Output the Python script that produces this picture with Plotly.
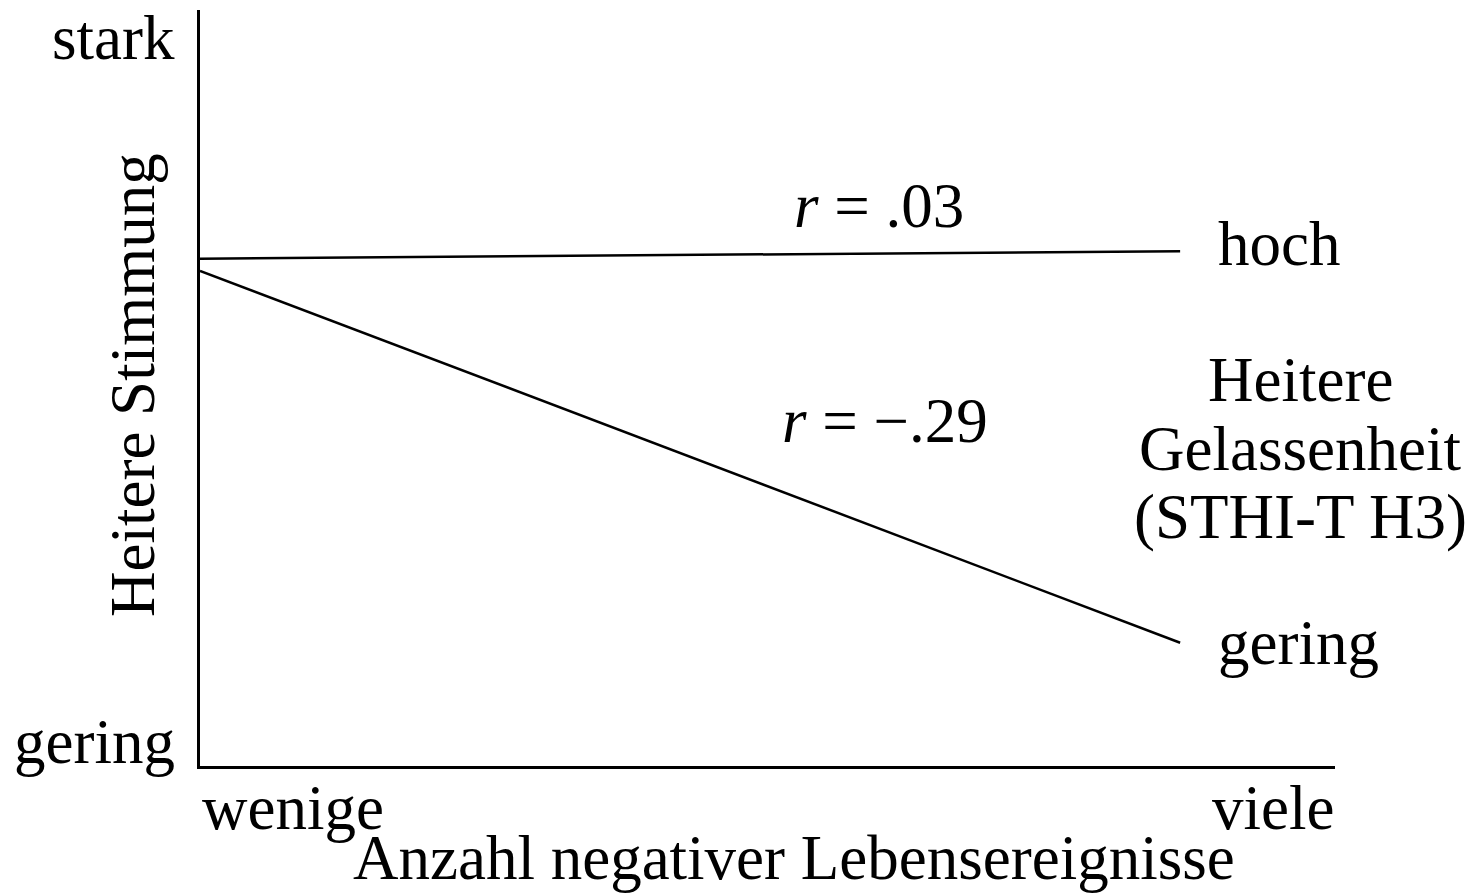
import plotly.graph_objects as go

# Two regression lines: mood vs. number of negative life events,
# split by high / low trait cheerfulness (STHI-T H3)
x_events = [0.0, 1.0]
mood_hoch = [0.671, 0.681]
mood_gering = [0.655, 0.163]

group_labels = ["hoch", "gering"]
r_labels = ["<i>r</i> = .03", "<i>r</i> = \u2212.29"]
x_tick_labels = ["wenige", "viele"]
y_tick_labels = ["gering", "stark"]
x_title = "Anzahl negativer Lebensereignisse"
y_title = "Heitere Stimmung"
legend_title = ["Heitere", "Gelassenheit", "(STHI-T H3)"]

FONT = "Liberation Serif, Times New Roman, serif"
FS = 63
W, H = 1479, 896
L, R, T, B = 200, 144, 10, 130
PW, PH = W - L - R, H - T - B


def px(x):
    return (x - L) / PW


def py(y):
    return (H - B - y) / PH


fig = go.Figure()
for ys in (mood_hoch, mood_gering):
    fig.add_trace(go.Scatter(x=x_events, y=ys, mode="lines",
                             line=dict(color="black", width=2.5),
                             showlegend=False, hoverinfo="skip"))

ann = []


def text(t, x, y, xa="center", ya="middle", angle=0):
    ann.append(dict(text=t, x=px(x), y=py(y), xref="paper", yref="paper",
                    xanchor=xa, yanchor=ya, showarrow=False, textangle=angle,
                    font=dict(family=FONT, size=FS, color="black")))


text(y_tick_labels[1], 177, 38, xa="right")
text(y_tick_labels[0], 177, 742, xa="right")
text(x_tick_labels[0], 200, 808, xa="left")
text(x_tick_labels[1], 1336, 808, xa="right")
text(x_title, 794, 858)
text(y_title, 133, 385, angle=-90)
text(r_labels[0], 879, 206)
text(r_labels[1], 885, 421)
text(group_labels[0], 1216, 244, xa="left")
text(group_labels[1], 1216, 643, xa="left")
for i, line in enumerate(legend_title):
    text(line, 1300, 380 + 68.5 * i)

fig.update_layout(
    width=W, height=H,
    margin=dict(l=L, r=R, t=T, b=B),
    paper_bgcolor="white", plot_bgcolor="white",
    annotations=ann,
    xaxis=dict(range=[0, 1.158], showline=True, linecolor="black", linewidth=2.5,
               showgrid=False, zeroline=False, showticklabels=False, ticks=""),
    yaxis=dict(range=[0, 1], showline=True, linecolor="black", linewidth=2.5,
               showgrid=False, zeroline=False, showticklabels=False, ticks=""),
)

fig.write_html("out.html")
